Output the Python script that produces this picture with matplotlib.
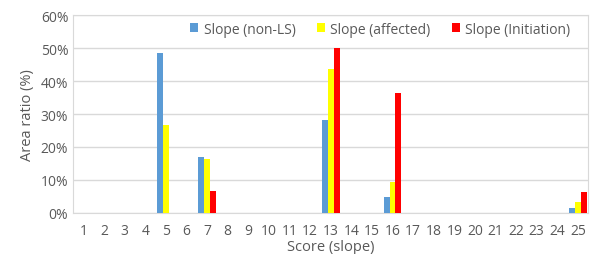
import numpy as np
import matplotlib.pyplot as plt
from matplotlib.ticker import PercentFormatter

scores = list(range(1, 26))
non_ls = {5: 48.5, 7: 17.0, 13: 28.2, 16: 4.8, 25: 1.4}
affected = {5: 26.8, 7: 16.3, 13: 43.7, 16: 9.5, 25: 3.4}
initiation = {5: 0.0, 7: 6.8, 13: 50.0, 16: 36.5, 25: 6.4}

series = [
    ("Slope (non-LS)", non_ls, "#5B9BD5"),
    ("Slope (affected)", affected, "#FFFF00"),
    ("Slope (Initiation)", initiation, "#FF0000"),
]

plt.rcParams['font.family'] = ['Open Sans', 'DejaVu Sans']
fig = plt.figure(figsize=(5.9, 2.55), dpi=100)
ax = fig.add_axes([0.124, 0.161, 0.873, 0.776])

x = np.arange(len(scores))
w = 0.29
for i, (name, vals, col) in enumerate(series):
    h = [vals.get(s, 0.0) for s in scores]
    ax.bar(x + (i - 1) * w, h, width=w, color=col, label=name, zorder=3)

ax.set_xlim(-0.5, len(scores) - 0.5)
ax.set_ylim(0, 60)
ax.set_yticks(range(0, 61, 10))
ax.yaxis.set_major_formatter(PercentFormatter(decimals=0))
ax.set_xticks(x)
ax.set_xticklabels([str(s) for s in scores])
ax.grid(axis='y', color='#D9D9D9', linewidth=1, zorder=0)
for sp in ax.spines.values():
    sp.set_color('#D9D9D9')
ax.tick_params(length=0, colors='#595959', labelsize=10)
ax.tick_params(axis='x', pad=7)
ax.set_ylabel("Area ratio (%)", color='#595959', fontsize=10.5)
ax.set_xlabel("Score (slope)", color='#595959', fontsize=10.5)
ax.xaxis.set_label_coords(0.5, -0.2, transform=ax.transAxes)
ax.xaxis.label.set_verticalalignment('center')
ax.xaxis.set_label_coords(0.5, (214 - 248) / 198)

ax.legend(loc='upper right', ncol=3, frameon=False, fontsize=10,
          handlelength=0.6, handleheight=0.6, handletextpad=0.4,
          columnspacing=1.5, bbox_to_anchor=(0.99, 1.03), labelcolor='#595959')

fig.savefig("out.png", dpi=100)
